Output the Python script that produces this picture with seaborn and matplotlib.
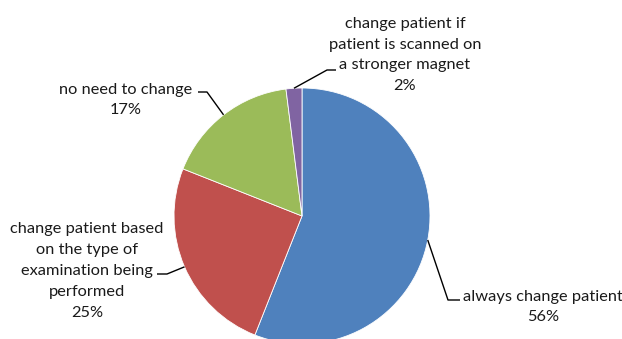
import numpy as np
import matplotlib
matplotlib.use("Agg")
import matplotlib.pyplot as plt
import seaborn as sns

# ---- data ----
categories = ["always change patient",
              "change patient based\non the type of\nexamination being\nperformed",
              "no need to change",
              "change patient if\npatient is scanned on\na stronger magnet"]
values = [56, 25, 17, 2]
pct_labels = ["56%", "25%", "17%", "2%"]
colors = ["#4F81BD", "#C0504D", "#9BBB59", "#8064A2"]

# ---- layout (pixel space, y measured from top) ----
W, H = 622, 339
center_px = (302, 216)
radius_px = 128
label_pos = [(543, 307), (87, 271), (126, 100), (405, 55)]
bend_pos = [(448, 300), (167, 274), (207, 92), (327, 70)]
end_pos = [(460, 300), (157, 274), (198, 92), (336, 70)]

sns.set_theme(style="white")
plt.rcParams["font.family"] = ["Lato", "DejaVu Sans"]

fig = plt.figure(figsize=(W / 100, H / 100), dpi=100)
ax = fig.add_axes([0, 0, 1, 1])

def fy(y):
    return H - y

wedges, _ = ax.pie(values, colors=colors, startangle=90, counterclock=False,
                   center=(center_px[0], fy(center_px[1])), radius=radius_px,
                   wedgeprops=dict(edgecolor="white", linewidth=0.6))
ax.set_xlim(0, W)
ax.set_ylim(0, H)
ax.set_aspect("equal")
ax.axis("off")

for w, cat, pct, lp, bp, ep in zip(wedges, categories, pct_labels,
                                   label_pos, bend_pos, end_pos):
    mid = np.deg2rad((w.theta1 + w.theta2) / 2)
    sx = w.center[0] + w.r * np.cos(mid)
    sy = w.center[1] + w.r * np.sin(mid)
    ax.plot([sx, bp[0], ep[0]], [sy, fy(bp[1]), fy(ep[1])],
            color="black", lw=1.0, solid_capstyle="butt", clip_on=False)
    ax.text(lp[0], fy(lp[1]), cat + "\n" + pct, ha="center", va="center",
            fontsize=11.8, color="#1a1a1a", linespacing=1.62)

fig.savefig("out.png", dpi=100, facecolor="white")
